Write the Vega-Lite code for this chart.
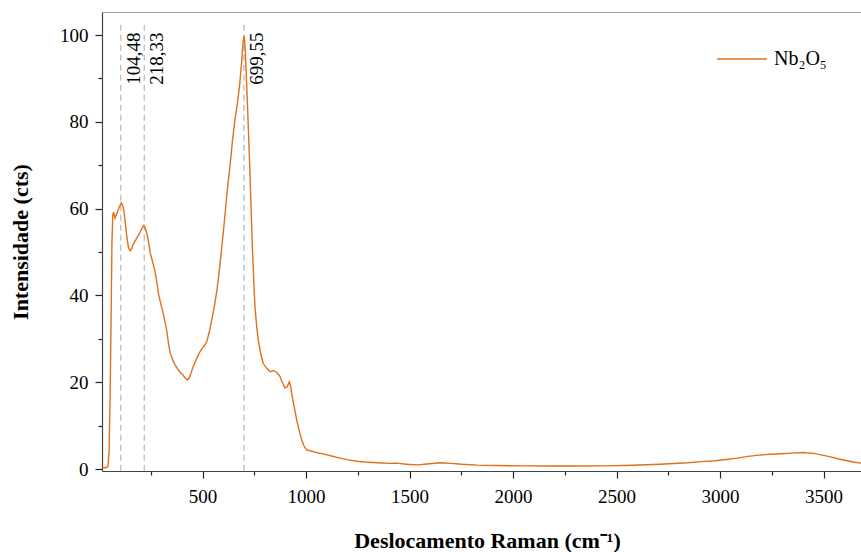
{
  "$schema": "https://vega.github.io/schema/vega-lite/v6.json",
  "width": 770,
  "height": 459,
  "autosize": {"type": "none"},
  "padding": {"left": 102, "top": 12, "right": 0, "bottom": 81},
  "background": "white",
  "config": {
    "view": {"stroke": "#a6a6a6", "strokeWidth": 1},
    "font": "Liberation Serif",
    "axis": {"labelFont": "Liberation Serif", "titleFont": "Liberation Serif", "grid": false},
    "legend": {"labelFont": "Liberation Serif"}
  },
  "layer": [
    {
      "data": {"values": [
        {"x": 104.48}, {"x": 218.33}, {"x": 699.55}
      ]},
      "mark": {"type": "rule", "color": "#c4c4c4", "strokeWidth": 1.5, "strokeDash": [6, 4]},
      "encoding": {
        "x": {"field": "x", "type": "quantitative"},
        "y": {"datum": -0.4, "type": "quantitative"},
        "y2": {"datum": 103}
      }
    },
    {
      "data": {"values": [
        {"x": 104.48, "label": "104,48"},
        {"x": 218.33, "label": "218,33"},
        {"x": 699.55, "label": "699,55"}
      ]},
      "mark": {"type": "text", "angle": 270, "align": "right", "baseline": "top", "dy": 4, "fontSize": 19, "font": "Liberation Serif", "color": "black"},
      "encoding": {
        "x": {"field": "x", "type": "quantitative"},
        "y": {"datum": 100.6, "type": "quantitative"},
        "text": {"field": "label"}
      }
    },
    {
      "data": {"values": [
        {"x": 15, "y": 0.3, "s": "Nb₂O₅"},
        {"x": 33, "y": 0.3, "s": "Nb₂O₅"},
        {"x": 43, "y": 0.6, "s": "Nb₂O₅"},
        {"x": 48, "y": 4, "s": "Nb₂O₅"},
        {"x": 53, "y": 16, "s": "Nb₂O₅"},
        {"x": 58, "y": 35, "s": "Nb₂O₅"},
        {"x": 62, "y": 52, "s": "Nb₂O₅"},
        {"x": 66, "y": 58.5, "s": "Nb₂O₅"},
        {"x": 70, "y": 59.2, "s": "Nb₂O₅"},
        {"x": 77, "y": 57.8, "s": "Nb₂O₅"},
        {"x": 83, "y": 58.6, "s": "Nb₂O₅"},
        {"x": 89, "y": 59.3, "s": "Nb₂O₅"},
        {"x": 96, "y": 60.2, "s": "Nb₂O₅"},
        {"x": 102, "y": 60.8, "s": "Nb₂O₅"},
        {"x": 107, "y": 61.3, "s": "Nb₂O₅"},
        {"x": 113, "y": 60.9, "s": "Nb₂O₅"},
        {"x": 120, "y": 59.5, "s": "Nb₂O₅"},
        {"x": 127, "y": 56.5, "s": "Nb₂O₅"},
        {"x": 134, "y": 53.5, "s": "Nb₂O₅"},
        {"x": 142, "y": 51, "s": "Nb₂O₅"},
        {"x": 150, "y": 50.3, "s": "Nb₂O₅"},
        {"x": 158, "y": 50.8, "s": "Nb₂O₅"},
        {"x": 166, "y": 51.9, "s": "Nb₂O₅"},
        {"x": 175, "y": 52.6, "s": "Nb₂O₅"},
        {"x": 184, "y": 53.4, "s": "Nb₂O₅"},
        {"x": 193, "y": 54.1, "s": "Nb₂O₅"},
        {"x": 201, "y": 54.9, "s": "Nb₂O₅"},
        {"x": 209, "y": 55.6, "s": "Nb₂O₅"},
        {"x": 216, "y": 56.1, "s": "Nb₂O₅"},
        {"x": 223, "y": 55.5, "s": "Nb₂O₅"},
        {"x": 231, "y": 54.2, "s": "Nb₂O₅"},
        {"x": 239, "y": 52.3, "s": "Nb₂O₅"},
        {"x": 247, "y": 49.8, "s": "Nb₂O₅"},
        {"x": 258, "y": 47.8, "s": "Nb₂O₅"},
        {"x": 270, "y": 45.6, "s": "Nb₂O₅"},
        {"x": 279, "y": 43, "s": "Nb₂O₅"},
        {"x": 287, "y": 40.3, "s": "Nb₂O₅"},
        {"x": 298, "y": 38.1, "s": "Nb₂O₅"},
        {"x": 310, "y": 35.8, "s": "Nb₂O₅"},
        {"x": 319, "y": 33.8, "s": "Nb₂O₅"},
        {"x": 327, "y": 31.8, "s": "Nb₂O₅"},
        {"x": 335, "y": 29, "s": "Nb₂O₅"},
        {"x": 343, "y": 26.8, "s": "Nb₂O₅"},
        {"x": 355, "y": 25.2, "s": "Nb₂O₅"},
        {"x": 367, "y": 24, "s": "Nb₂O₅"},
        {"x": 379, "y": 23.1, "s": "Nb₂O₅"},
        {"x": 391, "y": 22.3, "s": "Nb₂O₅"},
        {"x": 403, "y": 21.8, "s": "Nb₂O₅"},
        {"x": 414, "y": 21.1, "s": "Nb₂O₅"},
        {"x": 426, "y": 20.5, "s": "Nb₂O₅"},
        {"x": 434, "y": 20.9, "s": "Nb₂O₅"},
        {"x": 444, "y": 22.1, "s": "Nb₂O₅"},
        {"x": 455, "y": 23.6, "s": "Nb₂O₅"},
        {"x": 466, "y": 24.9, "s": "Nb₂O₅"},
        {"x": 477, "y": 26, "s": "Nb₂O₅"},
        {"x": 487, "y": 27, "s": "Nb₂O₅"},
        {"x": 498, "y": 27.8, "s": "Nb₂O₅"},
        {"x": 510, "y": 28.5, "s": "Nb₂O₅"},
        {"x": 520, "y": 29.3, "s": "Nb₂O₅"},
        {"x": 532, "y": 31.5, "s": "Nb₂O₅"},
        {"x": 544, "y": 34.3, "s": "Nb₂O₅"},
        {"x": 556, "y": 37.3, "s": "Nb₂O₅"},
        {"x": 568, "y": 40.8, "s": "Nb₂O₅"},
        {"x": 578, "y": 44.5, "s": "Nb₂O₅"},
        {"x": 588, "y": 49, "s": "Nb₂O₅"},
        {"x": 600, "y": 54.5, "s": "Nb₂O₅"},
        {"x": 612, "y": 60.5, "s": "Nb₂O₅"},
        {"x": 622, "y": 65.5, "s": "Nb₂O₅"},
        {"x": 632, "y": 69.7, "s": "Nb₂O₅"},
        {"x": 644, "y": 75.5, "s": "Nb₂O₅"},
        {"x": 657, "y": 80.8, "s": "Nb₂O₅"},
        {"x": 668, "y": 84.2, "s": "Nb₂O₅"},
        {"x": 679, "y": 88.5, "s": "Nb₂O₅"},
        {"x": 689, "y": 94, "s": "Nb₂O₅"},
        {"x": 695, "y": 98, "s": "Nb₂O₅"},
        {"x": 700, "y": 99.8, "s": "Nb₂O₅"},
        {"x": 704, "y": 98.3, "s": "Nb₂O₅"},
        {"x": 710, "y": 92, "s": "Nb₂O₅"},
        {"x": 716, "y": 85, "s": "Nb₂O₅"},
        {"x": 723, "y": 76, "s": "Nb₂O₅"},
        {"x": 729, "y": 68, "s": "Nb₂O₅"},
        {"x": 735, "y": 59, "s": "Nb₂O₅"},
        {"x": 741, "y": 50.5, "s": "Nb₂O₅"},
        {"x": 747, "y": 43.5, "s": "Nb₂O₅"},
        {"x": 753, "y": 37.4, "s": "Nb₂O₅"},
        {"x": 761, "y": 33, "s": "Nb₂O₅"},
        {"x": 769, "y": 29.7, "s": "Nb₂O₅"},
        {"x": 781, "y": 26.5, "s": "Nb₂O₅"},
        {"x": 793, "y": 24.3, "s": "Nb₂O₅"},
        {"x": 810, "y": 23.2, "s": "Nb₂O₅"},
        {"x": 826, "y": 22.4, "s": "Nb₂O₅"},
        {"x": 842, "y": 22.7, "s": "Nb₂O₅"},
        {"x": 858, "y": 22.3, "s": "Nb₂O₅"},
        {"x": 874, "y": 21.3, "s": "Nb₂O₅"},
        {"x": 886, "y": 19.8, "s": "Nb₂O₅"},
        {"x": 898, "y": 18.7, "s": "Nb₂O₅"},
        {"x": 908, "y": 18.9, "s": "Nb₂O₅"},
        {"x": 919, "y": 20.1, "s": "Nb₂O₅"},
        {"x": 925, "y": 19.2, "s": "Nb₂O₅"},
        {"x": 931, "y": 17.2, "s": "Nb₂O₅"},
        {"x": 943, "y": 14.2, "s": "Nb₂O₅"},
        {"x": 955, "y": 11.2, "s": "Nb₂O₅"},
        {"x": 967, "y": 8.8, "s": "Nb₂O₅"},
        {"x": 979, "y": 6.7, "s": "Nb₂O₅"},
        {"x": 991, "y": 5.2, "s": "Nb₂O₅"},
        {"x": 1003, "y": 4.4, "s": "Nb₂O₅"},
        {"x": 1019, "y": 4.2, "s": "Nb₂O₅"},
        {"x": 1035, "y": 4.0, "s": "Nb₂O₅"},
        {"x": 1059, "y": 3.7, "s": "Nb₂O₅"},
        {"x": 1083, "y": 3.5, "s": "Nb₂O₅"},
        {"x": 1123, "y": 3.0, "s": "Nb₂O₅"},
        {"x": 1164, "y": 2.5, "s": "Nb₂O₅"},
        {"x": 1204, "y": 2.1, "s": "Nb₂O₅"},
        {"x": 1244, "y": 1.8, "s": "Nb₂O₅"},
        {"x": 1285, "y": 1.6, "s": "Nb₂O₅"},
        {"x": 1325, "y": 1.5, "s": "Nb₂O₅"},
        {"x": 1365, "y": 1.4, "s": "Nb₂O₅"},
        {"x": 1405, "y": 1.3, "s": "Nb₂O₅"},
        {"x": 1434, "y": 1.35, "s": "Nb₂O₅"},
        {"x": 1487, "y": 1.1, "s": "Nb₂O₅"},
        {"x": 1540, "y": 0.95, "s": "Nb₂O₅"},
        {"x": 1595, "y": 1.2, "s": "Nb₂O₅"},
        {"x": 1647, "y": 1.45, "s": "Nb₂O₅"},
        {"x": 1700, "y": 1.3, "s": "Nb₂O₅"},
        {"x": 1753, "y": 1.1, "s": "Nb₂O₅"},
        {"x": 1830, "y": 0.9, "s": "Nb₂O₅"},
        {"x": 1912, "y": 0.8, "s": "Nb₂O₅"},
        {"x": 2045, "y": 0.72, "s": "Nb₂O₅"},
        {"x": 2178, "y": 0.7, "s": "Nb₂O₅"},
        {"x": 2311, "y": 0.68, "s": "Nb₂O₅"},
        {"x": 2444, "y": 0.72, "s": "Nb₂O₅"},
        {"x": 2577, "y": 0.85, "s": "Nb₂O₅"},
        {"x": 2710, "y": 1.1, "s": "Nb₂O₅"},
        {"x": 2843, "y": 1.45, "s": "Nb₂O₅"},
        {"x": 2910, "y": 1.7, "s": "Nb₂O₅"},
        {"x": 2975, "y": 1.9, "s": "Nb₂O₅"},
        {"x": 3030, "y": 2.2, "s": "Nb₂O₅"},
        {"x": 3082, "y": 2.5, "s": "Nb₂O₅"},
        {"x": 3135, "y": 2.9, "s": "Nb₂O₅"},
        {"x": 3188, "y": 3.2, "s": "Nb₂O₅"},
        {"x": 3241, "y": 3.4, "s": "Nb₂O₅"},
        {"x": 3294, "y": 3.5, "s": "Nb₂O₅"},
        {"x": 3347, "y": 3.65, "s": "Nb₂O₅"},
        {"x": 3400, "y": 3.8, "s": "Nb₂O₅"},
        {"x": 3453, "y": 3.6, "s": "Nb₂O₅"},
        {"x": 3494, "y": 3.2, "s": "Nb₂O₅"},
        {"x": 3534, "y": 2.8, "s": "Nb₂O₅"},
        {"x": 3574, "y": 2.3, "s": "Nb₂O₅"},
        {"x": 3613, "y": 1.9, "s": "Nb₂O₅"},
        {"x": 3650, "y": 1.55, "s": "Nb₂O₅"},
        {"x": 3688, "y": 1.3, "s": "Nb₂O₅"},
        {"x": 3730, "y": 1.1, "s": "Nb₂O₅"}
      ]},
      "mark": {"type": "line", "strokeWidth": 1.4, "clip": true},
      "encoding": {
        "x": {
          "field": "x", "type": "quantitative",
          "scale": {"domain": [14, 3734], "nice": false, "zero": false},
          "axis": {
            "title": "Deslocamento Raman (cm⁻¹)",
            "titleFontSize": 22, "titleFontWeight": "bold", "titleColor": "black", "titlePadding": 24,
            "values": [250, 500, 750, 1000, 1250, 1500, 1750, 2000, 2250, 2500, 2750, 3000, 3250, 3500],
            "labelExpr": "datum.value % 500 === 0 ? datum.value : ''",
            "labelFontSize": 19, "labelColor": "black", "labelPadding": 9, "labelFlush": false,
            "domainColor": "#444", "domainWidth": 1.2,
            "tickColor": "#222", "tickWidth": 1.2,
            "tickSize": {"condition": {"test": "datum.value % 500 === 0", "value": 7}, "value": 4}
          }
        },
        "y": {
          "field": "y", "type": "quantitative",
          "scale": {"domain": [-0.46, 105.3], "nice": false, "zero": false},
          "axis": {
            "title": "Intensidade (cts)",
            "titleFontSize": 22, "titleFontWeight": "bold", "titleColor": "black", "titlePadding": 27,
            "values": [0, 10, 20, 30, 40, 50, 60, 70, 80, 90, 100],
            "labelExpr": "datum.value % 20 === 0 ? datum.value : ''",
            "labelFontSize": 19, "labelColor": "black", "labelPadding": 7, "labelFlush": false,
            "domainColor": "#444", "domainWidth": 1.2,
            "tickColor": "#222", "tickWidth": 1.2,
            "tickSize": {"condition": {"test": "datum.value % 20 === 0", "value": 7}, "value": 4}
          }
        },
        "color": {
          "field": "s", "type": "nominal",
          "scale": {"range": ["#E0701A"]},
          "legend": {
            "title": null, "orient": "none", "legendX": 614, "legendY": 21,
            "symbolType": "stroke", "symbolSize": 2500, "symbolStrokeWidth": 1.4,
            "labelFontSize": 20, "labelColor": "black", "labelOffset": 6
          }
        }
      }
    }
  ]
}
